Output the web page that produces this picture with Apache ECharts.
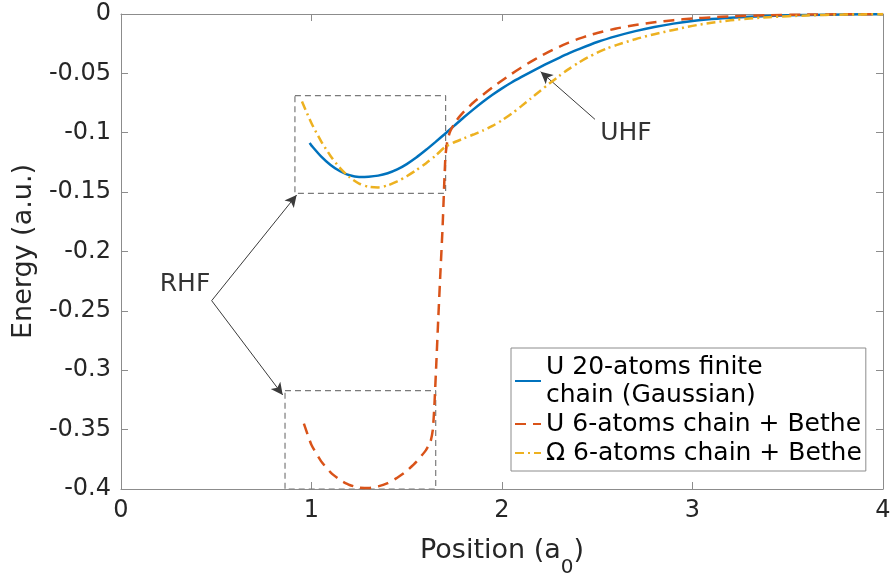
<!DOCTYPE html>
<html>
<head>
<meta charset="utf-8">
<script src="https://cdn.jsdelivr.net/npm/echarts@6/dist/echarts.min.js"></script>
<style>
  html, body { margin: 0; padding: 0; background: #fff; }
  #chart { width: 896px; height: 577px; }
</style>
</head>
<body>
<div id="chart"></div>
<script>
// Energy profiles along the chain position
const seriesNames = [
  'U 20-atoms finite\nchain (Gaussian)',
  'U 6-atoms chain + Bethe',
  '\u03A9 6-atoms chain + Bethe'
];

// U, 20-atom finite chain (Gaussian)
const uFinite = [
  [0.99,-0.1087],[1.00,-0.1108],[1.05,-0.1199],[1.10,-0.1271],[1.15,-0.1324],
  [1.20,-0.1358],[1.25,-0.1372],[1.30,-0.1370],[1.35,-0.1361],[1.40,-0.1341],
  [1.45,-0.1309],[1.50,-0.1264],[1.55,-0.1209],[1.60,-0.1146],[1.65,-0.1079],
  [1.70,-0.1010],[1.75,-0.0940],[1.80,-0.0870],[1.85,-0.0803],[1.90,-0.0739],
  [1.95,-0.0680],[2.00,-0.0626],[2.05,-0.0577],[2.10,-0.0532],[2.15,-0.0489],
  [2.20,-0.0447],[2.25,-0.0407],[2.30,-0.0369],[2.35,-0.0332],[2.40,-0.0298],
  [2.50,-0.0236],[2.60,-0.0186],[2.70,-0.0144],[2.80,-0.0109],[2.90,-0.0081],
  [3.00,-0.0059],[3.10,-0.0043],[3.20,-0.0031],[3.40,-0.0016],[3.60,-0.0008],
  [3.80,-0.0004],[4.00,-0.0002]
];

// U, 6-atom chain + Bethe lattice (RHF branch, jump, then UHF branch)
const uBethe = [
  [0.96,-0.3450],[1.00,-0.3630],[1.05,-0.3765],[1.10,-0.3860],[1.15,-0.3925],
  [1.20,-0.3966],[1.25,-0.3988],[1.30,-0.3992],[1.35,-0.3978],[1.40,-0.3950],
  [1.45,-0.3905],[1.50,-0.3848],[1.55,-0.3772],[1.60,-0.3675],[1.625,-0.3600],
  [1.637,-0.3500],[1.645,-0.3300],[1.655,-0.2950],[1.665,-0.2580],[1.676,-0.2200],
  [1.688,-0.1800],[1.697,-0.1420],[1.703,-0.1200],[1.712,-0.1080],[1.725,-0.1000],
  [1.740,-0.0950],[1.760,-0.0900],[1.780,-0.0858],[1.800,-0.0822],[1.850,-0.0745],
  [1.900,-0.0680],[1.950,-0.0618],[2.000,-0.0560],[2.050,-0.0505],[2.100,-0.0452],
  [2.150,-0.0403],[2.200,-0.0357],[2.250,-0.0315],[2.300,-0.0276],[2.350,-0.0241],
  [2.400,-0.0210],[2.450,-0.0183],[2.500,-0.0160],[2.600,-0.0122],[2.700,-0.0093],
  [2.800,-0.0070],[2.900,-0.0052],[3.000,-0.0038],[3.100,-0.0028],[3.200,-0.0020],
  [3.400,-0.0010],[3.600,-0.0005],[3.800,-0.0002],[4.000,-0.0001]
];

// Omega, 6-atom chain + Bethe lattice
const omegaBethe = [
  [0.95,-0.0737],[1.00,-0.0920],[1.05,-0.1070],[1.10,-0.1195],[1.15,-0.1298],
  [1.20,-0.1375],[1.25,-0.1428],[1.30,-0.1455],[1.35,-0.1460],[1.40,-0.1443],
  [1.45,-0.1410],[1.50,-0.1366],[1.55,-0.1315],[1.60,-0.1258],[1.65,-0.1195],
  [1.70,-0.1122],[1.75,-0.1080],[1.80,-0.1047],[1.85,-0.1015],[1.90,-0.0981],
  [1.95,-0.0942],[2.00,-0.0895],[2.05,-0.0840],[2.10,-0.0778],[2.15,-0.0713],
  [2.20,-0.0648],[2.25,-0.0584],[2.30,-0.0522],[2.35,-0.0464],[2.40,-0.0412],
  [2.45,-0.0366],[2.50,-0.0326],[2.55,-0.0291],[2.60,-0.0262],[2.70,-0.0212],
  [2.80,-0.0170],[2.90,-0.0134],[3.00,-0.0100],[3.10,-0.0073],[3.20,-0.0053],
  [3.30,-0.0038],[3.40,-0.0027],[3.60,-0.0012],[3.80,-0.0005],[4.00,-0.0002]
];

// Dashed frames around the RHF regions
const rhfFrameUpper = [[0.913,-0.0688],[1.704,-0.0688],[1.704,-0.151],[0.913,-0.151],[0.913,-0.0688]];
const rhfFrameLower = [[0.861,-0.3172],[1.652,-0.3172],[1.652,-0.4],[0.861,-0.4],[0.861,-0.3172]];

// Annotation arrows: [from, to]
const arrows = [
  [[0.476,-0.2414],[0.922,-0.1524]],
  [[0.476,-0.2414],[0.849,-0.3208]],
  [[2.488,-0.0887],[2.203,-0.0486]]
];
// Annotation texts: [x, y, text]
const notes = [[0.336,-0.2274,'RHF'],[2.651,-0.1005,'UHF']];

// Axis ticks
const xTicks = [0,1,2,3,4];
const xTickLabels = ['0','1','2','3','4'];
const yTicks = [-0.4,-0.35,-0.3,-0.25,-0.2,-0.15,-0.1,-0.05,0];
const yTickLabels = ['-0.4','-0.35','-0.3','-0.25','-0.2','-0.15','-0.1','-0.05','0'];

const FONT = 'DejaVu Sans';
const TEXT = '#262626';
const AXIS = '#8c8c8c';
const colors = ['#0072BD', '#D95319', '#EDB120'];

function lookup(ticks, labels, v) {
  for (let i = 0; i < ticks.length; i++) {
    if (Math.abs(ticks[i] - v) < 1e-9) return labels[i];
  }
  return '';
}

const chart = echarts.init(document.getElementById('chart'), null, { renderer: 'canvas' });

const frameStyle = { color: '#7a7a7a', width: 1.2, type: [6, 4] };

chart.setOption({
  animation: false,
  backgroundColor: '#ffffff',
  grid: { left: 121, right: 13, top: 14, bottom: 88, containLabel: false, outerBoundsMode: 'none' },
  legend: {
    data: seriesNames,
    orient: 'vertical',
    left: 511,
    top: 348,
    itemWidth: 26,
    itemHeight: 14,
    itemGap: 1,
    padding: [5, 4, 4, 3],
    backgroundColor: '#ffffff',
    borderColor: '#8c8c8c',
    borderWidth: 1,
    borderRadius: 0,
    itemStyle: { opacity: 0 },
    textStyle: { fontFamily: FONT, fontSize: 25, color: '#000', lineHeight: 28 }
  },
  xAxis: [
    {
      type: 'value', min: 0, max: 4, interval: 1,
      name: 'Position (a{sub|0})',
      nameLocation: 'middle',
      nameGap: 35,
      nameTextStyle: {
        fontFamily: FONT, fontSize: 27, color: TEXT,
        rich: { sub: { fontFamily: FONT, fontSize: 20, color: TEXT, padding: [34, 0, 0, 0] } }
      },
      axisLine: { show: true, onZero: false, lineStyle: { color: AXIS, width: 1 } },
      axisTick: { show: true, inside: true, length: 7, lineStyle: { color: AXIS } },
      axisLabel: {
        fontFamily: FONT, fontSize: 24, color: TEXT, margin: 10,
        formatter: v => lookup(xTicks, xTickLabels, v)
      },
      splitLine: { show: false }
    },
    {
      type: 'value', min: 0, max: 4, interval: 1, position: 'top',
      axisLine: { show: true, onZero: false, lineStyle: { color: AXIS, width: 1 } },
      axisTick: { show: true, inside: true, length: 7, lineStyle: { color: AXIS } },
      axisLabel: { show: false },
      splitLine: { show: false }
    }
  ],
  yAxis: [
    {
      type: 'value', min: -0.4, max: 0, interval: 0.05,
      name: 'Energy (a.u.)',
      nameLocation: 'middle',
      nameGap: 84,
      nameTextStyle: { fontFamily: FONT, fontSize: 27, color: TEXT },
      axisLine: { show: true, onZero: false, lineStyle: { color: AXIS, width: 1 } },
      axisTick: { show: true, inside: true, length: 7, lineStyle: { color: AXIS } },
      axisLabel: {
        fontFamily: FONT, fontSize: 24, color: TEXT, margin: 10,
        formatter: v => lookup(yTicks, yTickLabels, v)
      },
      splitLine: { show: false }
    },
    {
      type: 'value', min: -0.4, max: 0, interval: 0.05, position: 'right',
      axisLine: { show: true, onZero: false, lineStyle: { color: AXIS, width: 1 } },
      axisTick: { show: true, inside: true, length: 7, lineStyle: { color: AXIS } },
      axisLabel: { show: false },
      splitLine: { show: false }
    }
  ],
  series: [
    {
      name: 'frameUpper', type: 'line', data: rhfFrameUpper,
      symbol: 'none', silent: true, z: 1,
      lineStyle: frameStyle,
      markLine: {
        silent: true,
        symbol: ['none', 'arrow'],
        symbolSize: [9, 12],
        label: { show: false },
        lineStyle: { color: '#3a3a3a', width: 1, type: 'solid' },
        data: arrows.map(a => [{ coord: a[0] }, { coord: a[1] }])
      }
    },
    {
      name: 'frameLower', type: 'line', data: rhfFrameLower,
      symbol: 'none', silent: true, z: 1,
      lineStyle: frameStyle
    },
    {
      name: seriesNames[0], type: 'line', data: uFinite,
      symbol: 'none', smooth: 0.25, z: 3,
      color: colors[0],
      lineStyle: { color: colors[0], width: 2.5, type: 'solid' }
    },
    {
      name: seriesNames[1], type: 'line', data: uBethe,
      symbol: 'none', smooth: 0.15, z: 4,
      color: colors[1],
      lineStyle: { color: colors[1], width: 2.5, type: [11, 7] }
    },
    {
      name: seriesNames[2], type: 'line', data: omegaBethe,
      symbol: 'none', smooth: 0.25, z: 5,
      color: colors[2],
      lineStyle: { color: colors[2], width: 2.5, type: [9, 4, 2, 4] }
    },
    {
      name: 'notes', type: 'scatter', data: notes,
      symbolSize: 1, silent: true, z: 6,
      itemStyle: { color: 'rgba(0,0,0,0)' },
      label: {
        show: true, position: 'inside',
        fontFamily: FONT, fontSize: 25, color: '#000',
        formatter: p => p.value[2]
      }
    }
  ]
});
</script>
</body>
</html>
